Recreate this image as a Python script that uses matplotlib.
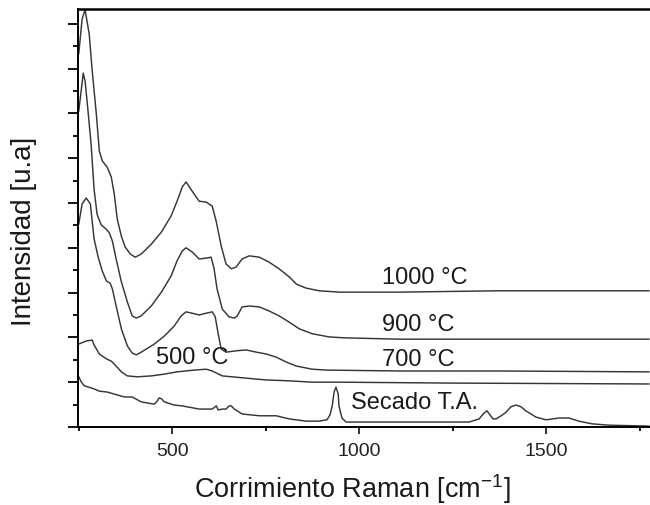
import matplotlib
matplotlib.use("Agg")
import matplotlib.pyplot as plt
from matplotlib.ticker import MultipleLocator, NullFormatter

# Espectros Raman por temperatura de calcinación (desplazados verticalmente)
x_1000 = [250, 259, 267, 278, 286, 297, 305, 313, 326, 337, 345, 353, 364, 374, 388, 401,
          417, 444, 471, 497, 513, 527, 537, 553, 572, 591, 607, 618, 631, 644, 658, 671,
          687, 706, 733, 759, 786, 813, 832, 858, 893, 947, 1107, 1374, 1642, 1775]
y_1000 = [8.33, 9.11, 9.31, 8.77, 7.95, 6.99, 6.16, 5.94, 5.80, 5.58, 5.20, 4.64, 4.26, 4.02,
          3.86, 3.79, 3.86, 4.08, 4.35, 4.71, 5.04, 5.36, 5.47, 5.27, 5.04, 5.02, 4.93, 4.58,
          4.04, 3.64, 3.53, 3.57, 3.75, 3.82, 3.79, 3.68, 3.53, 3.35, 3.19, 3.10, 3.04, 3.01,
          3.01, 3.04, 3.04, 3.04]

x_900 = [250, 257, 262, 267, 273, 283, 291, 299, 310, 323, 332, 340, 350, 364, 380, 393,
         404, 417, 444, 471, 497, 513, 527, 537, 553, 572, 591, 604, 612, 620, 634, 652,
         666, 674, 687, 706, 733, 759, 786, 813, 840, 875, 920, 960, 1107, 1374, 1775]
y_900 = [7.05, 7.54, 7.90, 7.72, 7.21, 6.32, 5.31, 4.75, 4.51, 4.42, 4.33, 4.15, 3.75, 3.24,
         2.79, 2.48, 2.43, 2.48, 2.70, 3.01, 3.37, 3.71, 3.93, 4.00, 3.91, 3.75, 3.77, 3.79,
         3.53, 3.08, 2.63, 2.46, 2.43, 2.48, 2.68, 2.70, 2.68, 2.59, 2.48, 2.34, 2.19, 2.08,
         2.01, 1.99, 1.96, 1.96, 1.96]

x_700 = [250, 259, 270, 281, 291, 302, 313, 324, 334, 340, 350, 364, 380, 393, 404, 417,
         452, 479, 505, 524, 537, 553, 572, 591, 607, 615, 623, 631, 644, 671, 698, 725,
         751, 778, 805, 832, 874, 912, 1107, 1374, 1775]
y_700 = [4.53, 4.98, 5.11, 4.98, 4.20, 3.79, 3.48, 3.26, 3.21, 3.08, 2.70, 2.19, 1.81, 1.65,
         1.61, 1.67, 1.85, 2.03, 2.25, 2.48, 2.57, 2.54, 2.50, 2.54, 2.57, 2.46, 2.08, 1.74,
         1.67, 1.70, 1.72, 1.67, 1.63, 1.56, 1.45, 1.36, 1.29, 1.27, 1.25, 1.25, 1.23]

x_500 = [250, 270, 286, 291, 305, 324, 337, 350, 364, 380, 407, 444, 479, 513, 559, 591,
         607, 634, 660, 698, 751, 813, 874, 947, 1241, 1775]
y_500 = [1.85, 1.92, 1.94, 1.83, 1.63, 1.52, 1.47, 1.36, 1.23, 1.14, 1.12, 1.14, 1.18, 1.23,
         1.27, 1.29, 1.25, 1.14, 1.12, 1.09, 1.05, 1.03, 1.00, 1.00, 0.98, 0.96]

x_secado = [250, 257, 265, 291, 305, 326, 372, 393, 417, 452, 460, 465, 471, 479, 505, 527,
            572, 607, 618, 623, 634, 644, 652, 658, 666, 687, 733, 778, 813, 858, 893, 914,
            922, 928, 933, 938, 944, 946, 954, 965, 1008, 1160, 1294, 1321, 1334, 1342, 1350,
            1358, 1366, 1380, 1393, 1406, 1420, 1433, 1446, 1473, 1500, 1535, 1561, 1588,
            1623, 1668, 1775]
y_secado = [1.12, 1.00, 0.92, 0.85, 0.80, 0.78, 0.67, 0.67, 0.56, 0.51, 0.58, 0.65, 0.63,
            0.56, 0.49, 0.47, 0.40, 0.40, 0.47, 0.38, 0.40, 0.40, 0.47, 0.47, 0.40, 0.29,
            0.25, 0.25, 0.18, 0.13, 0.13, 0.16, 0.27, 0.47, 0.78, 0.89, 0.74, 0.47, 0.20,
            0.11, 0.11, 0.11, 0.11, 0.18, 0.31, 0.36, 0.27, 0.18, 0.18, 0.25, 0.33, 0.45,
            0.49, 0.45, 0.36, 0.22, 0.16, 0.20, 0.20, 0.13, 0.07, 0.04, 0.02]

series = [(x_1000, y_1000), (x_900, y_900), (x_700, y_700), (x_500, y_500), (x_secado, y_secado)]

# Etiquetas de cada espectro (texto, x en cm-1, y en u.a.)
etiquetas = [("1000 °C", 1061, 3.35), ("900 °C", 1061, 2.29), ("700 °C", 1061, 1.52),
             ("500 °C", 457, 1.56), ("Secado T.A.", 979, 0.56)]

plt.rcParams["font.family"] = ["Liberation Sans", "DejaVu Sans"]
plt.rcParams["mathtext.fontset"] = "custom"
plt.rcParams["mathtext.rm"] = "Liberation Sans"
plt.rcParams["mathtext.default"] = "regular"

fig = plt.figure(figsize=(6.5, 5.06), dpi=100)
ax = fig.add_axes([0.12, 0.1542, 0.88, 0.826])

for xs, ys in series:
    ax.plot(xs, ys, color="#363636", lw=1.05)

for texto, xt, yt in etiquetas:
    ax.text(xt, yt, texto, fontsize=17, color="#1a1a1a", ha="left", va="center")

ax.set_xlim(248, 1778)
ax.set_ylim(0, 9.33)

ax.xaxis.set_major_locator(MultipleLocator(500))
ax.xaxis.set_minor_locator(MultipleLocator(250))
ax.yaxis.set_major_locator(MultipleLocator(1))
ax.yaxis.set_minor_locator(MultipleLocator(0.5))
ax.yaxis.set_major_formatter(NullFormatter())

ax.tick_params(axis="x", which="major", direction="out", length=5, width=1.3,
               labelsize=14, pad=6, colors="#222222")
ax.tick_params(axis="x", which="minor", direction="out", length=3, width=1.3)
ax.tick_params(axis="y", which="major", direction="out", length=7, width=1.3)
ax.tick_params(axis="y", which="minor", direction="out", length=3.5, width=1.3)

for lado in ["left", "bottom"]:
    ax.spines[lado].set_linewidth(1.4)
ax.spines["top"].set_linewidth(1.8)
ax.spines["right"].set_visible(False)

ax.set_xlabel("Corrimiento Raman [cm$^{-1}$]", fontsize=19.5, color="#1a1a1a")
ax.set_ylabel("Intensidad [u.a]", fontsize=20, color="#1a1a1a")
ax.xaxis.set_label_coords(0.479, -0.105)
ax.yaxis.set_label_coords(-0.072, 0.47)

fig.savefig("out.png", dpi=100)
